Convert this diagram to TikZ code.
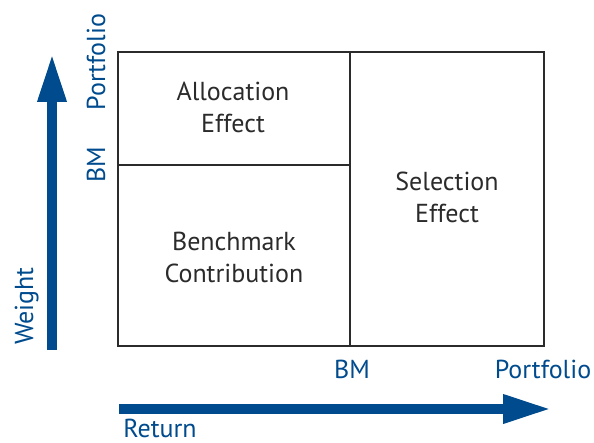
\documentclass[tikz,border=0pt]{standalone}
\usepackage{fontspec}
\setmainfont{PT Sans}
\usetikzlibrary{arrows.meta}
\definecolor{axisblue}{HTML}{004B8D}
\definecolor{boxgray}{HTML}{2B2B2B}
\begin{document}
\begin{tikzpicture}[x=1pt,y=-1pt,
  cell/.style={font=\fontsize{26}{32}\selectfont, text=boxgray, align=center, inner sep=0pt},
  axlabel/.style={font=\fontsize{26}{32}\selectfont, text=axisblue, inner sep=0pt, anchor=base},
  bigarrow/.style={axisblue, line width=9.5pt, -{Triangle[length=48pt,width=27pt]}}]
\useasboundingbox (0,0) rectangle (594,443);
\draw[boxgray, line width=2pt] (118,52) rectangle (544,346);
\draw[boxgray, line width=2pt] (350,52) -- (350,346);
\draw[boxgray, line width=2pt] (118,165) -- (350,165);
\node[cell] (alloc) at (233,107) {Allocation\\Effect};
\node[cell] (bench) at (234,257) {Benchmark\\Contribution};
\node[cell] (sel) at (447,197) {Selection\\Effect};
\coordinate (vstart) at (52,350);
\coordinate (vend) at (52,54);
\draw[bigarrow] (vstart) -- (vend);
\coordinate (hstart) at (119,409);
\coordinate (hend) at (551,409);
\draw[bigarrow] (hstart) -- (hend);
\node[axlabel, rotate=90] (wport) at (105,62) {Portfolio};
\node[axlabel, rotate=90] (wbm) at (105,165) {BM};
\node[axlabel, rotate=90] (weight) at (33,306) {Weight};
\node[axlabel] (rbm) at (352,378) {BM};
\node[axlabel] (rport) at (543,378) {Portfolio};
\node[axlabel] (ret) at (160,437) {Return};
\end{tikzpicture}
\end{document}
